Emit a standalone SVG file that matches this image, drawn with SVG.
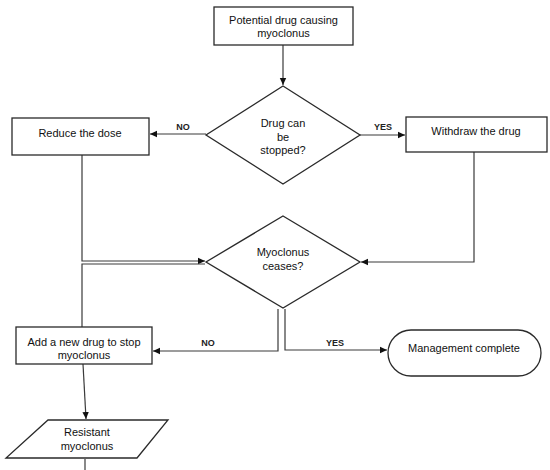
<svg xmlns="http://www.w3.org/2000/svg" width="550" height="470" viewBox="0 0 550 470">
<style>
.box{fill:#fff;stroke:#2a2a2a;stroke-width:1.3}
.ln{fill:none;stroke:#3a3a3a;stroke-width:1.2}
.t{font-family:"Liberation Sans",Arial,sans-serif;font-size:11px;fill:#111;text-anchor:middle}
.lbl{font-family:"Liberation Sans",Arial,sans-serif;font-size:9px;font-weight:bold;fill:#222;text-anchor:middle}
</style>
<defs>
<marker id="ah" markerWidth="8" markerHeight="8" refX="7" refY="4" orient="auto" markerUnits="userSpaceOnUse">
<path d="M0,0.8 L7,4 L0,7.2 Z" fill="#111"/>
</marker>
</defs>
<rect width="550" height="470" fill="#fff"/>
<g id="connectors">
<path class="ln" d="M283,45 L283,85" marker-end="url(#ah)"/>
<path class="ln" d="M206,134 L150,134" marker-end="url(#ah)"/>
<path class="ln" d="M359,135 L405,135" marker-end="url(#ah)"/>
<path class="ln" d="M474,152 L474,262 L361,262" marker-end="url(#ah)"/>
<path class="ln" d="M82,155 L82,261 L205,261" marker-end="url(#ah)"/>
<path class="ln" d="M82,327 L82,264 L205,264"/>
<path class="ln" d="M278,309 L278,351 L153,351" marker-end="url(#ah)"/>
<path class="ln" d="M285,309 L285,350 L387,350" marker-end="url(#ah)"/>
<path class="ln" d="M83,364 L86,419" marker-end="url(#ah)"/>
<path class="ln" d="M85,459 L85,470"/>
<text class="lbl" x="183" y="130">NO</text>
<text class="lbl" x="383" y="130">YES</text>
<text class="lbl" x="208" y="346">NO</text>
<text class="lbl" x="335" y="346">YES</text>
</g>
<g id="start">
<rect class="box" x="214" y="7" width="139" height="38"/>
<text class="t" x="283.5" y="24">Potential drug causing</text>
<text class="t" x="283.5" y="37">myoclonus</text>
</g>
<g id="decision1">
<polygon class="box" points="283,86 360,135 283,184 206,135"/>
<text class="t" x="283" y="127">Drug can</text>
<text class="t" x="283" y="141">be</text>
<text class="t" x="283" y="154">stopped?</text>
</g>
<g id="reduce">
<rect class="box" x="12" y="118" width="137" height="37"/>
<text class="t" x="80" y="137">Reduce the dose</text>
</g>
<g id="withdraw">
<rect class="box" x="406" y="117" width="141" height="35"/>
<text class="t" x="476" y="135">Withdraw the drug</text>
</g>
<g id="decision2">
<polygon class="box" points="283,216 360,262 283,308 206,262"/>
<text class="t" x="283" y="256">Myoclonus</text>
<text class="t" x="283" y="270">ceases?</text>
</g>
<g id="addnew">
<rect class="box" x="16" y="327" width="136" height="37"/>
<text class="t" x="84" y="346">Add a new drug to stop</text>
<text class="t" x="84" y="359">myoclonus</text>
</g>
<g id="complete">
<rect class="box" x="388" y="330" width="153" height="46" rx="23" ry="23"/>
<text class="t" x="464" y="352">Management complete</text>
</g>
<g id="resistant">
<polygon class="box" points="48,420 168,420 137,458 6,458"/>
<text class="t" x="87" y="436">Resistant</text>
<text class="t" x="87" y="450">myoclonus</text>
</g>
</svg>
